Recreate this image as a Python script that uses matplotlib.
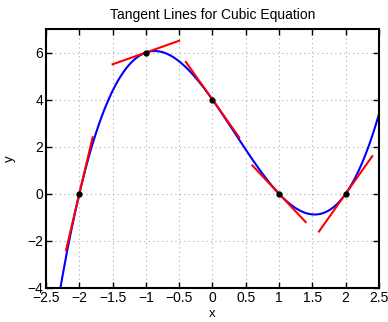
import numpy as np
import matplotlib
matplotlib.use('Agg')
import matplotlib.pyplot as plt

plt.rcParams['font.family'] = ['Liberation Sans', 'DejaVu Sans']

# cubic y = x^3 - x^2 - 4x + 4 and its derivative
coef = [1, -1, -4, 4]
dcoef = [3, -2, -4]
x_pts = [-2, -1, 0, 1, 2]
half_w = [0.2, 0.5, 0.4, 0.4, 0.4]   # half-length (in x) of each tangent segment

x = np.linspace(-2.5, 2.5, 400)
y = np.polyval(coef, x)

fig = plt.figure(figsize=(3.88, 3.22), dpi=100)
ax = fig.add_axes([0.1186, 0.1056, 0.858, 0.8044])
ax.plot(x, y, color='blue', lw=1.5)
for xp, hw in zip(x_pts, half_w):
    yp = np.polyval(coef, xp)
    m = np.polyval(dcoef, xp)
    xs = np.array([xp - hw, xp + hw])
    ax.plot(xs, yp + m * (xs - xp), color='red', lw=1.5)
ax.plot(x_pts, np.polyval(coef, x_pts), 'o', color='black', ms=3.5)

ax.set_xlim(-2.5, 2.5)
ax.set_ylim(-4, 7)
ax.set_xticks(np.arange(-2.5, 2.51, 0.5))
ax.set_yticks([-4, -2, 0, 2, 4, 6])
ax.set_xticklabels(['\u22122.5', '\u22122', '\u22121.5', '\u22121', '\u22120.5', '0', '0.5', '1', '1.5', '2', '2.5'])
ax.grid(True, linestyle=(0, (1, 3)), color='#aaaaaa', lw=0.8)
ax.tick_params(direction='in', top=True, right=True, labelsize=10, length=4, width=1, pad=2)
for s in ax.spines.values():
    s.set_linewidth(1.5)
ax.set_title('Tangent Lines for Cubic Equation', fontsize=10, pad=7)
ax.set_xlabel('x', fontsize=9.5, labelpad=2)
ax.set_ylabel('y', fontsize=9.5, labelpad=8)

fig.savefig('out.png', dpi=100)
